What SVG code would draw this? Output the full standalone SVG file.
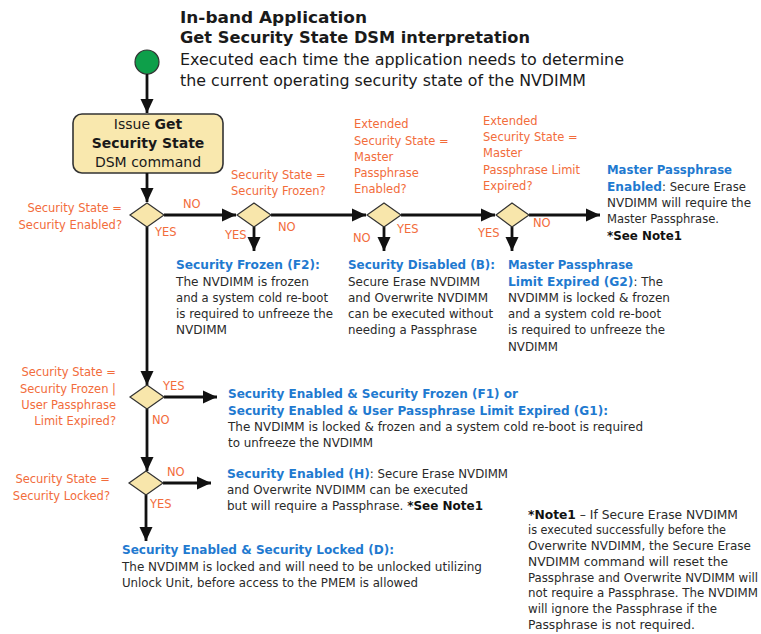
<svg xmlns="http://www.w3.org/2000/svg" width="761" height="634" viewBox="0 0 761 634">
<defs>
<marker id="ah" markerUnits="userSpaceOnUse" markerWidth="15" markerHeight="14" refX="14" refY="7" orient="auto">
<path d="M0,0.5 L14,7 L0,13.5 z" fill="#111"/>
</marker>
<style>
text { font-family: "DejaVu Sans", Verdana, sans-serif; }
.o { fill:#f26c3b; font-size:11.5px; }
.ol { fill:#f26c3b; font-size:11.5px; text-anchor:end; }
.h { fill:#1f7ad0; font-weight:bold; font-size:12px; }
.k { fill:#2a2a2a; font-size:11.5px; }
.kb { fill:#111; font-weight:bold; }
.hb { fill:#1f7ad0; font-weight:bold; font-size:12px; }
.dia { fill:#f8e6ab; stroke:#333; stroke-width:1.2; }
.c { stroke:#111; stroke-width:2.8; fill:none; marker-end:url(#ah); }
</style>
</defs>
<rect width="761" height="634" fill="#fff"/>

<g id="title">
<text x="180" y="23" font-size="15" font-weight="bold" fill="#1a1a1a" textLength="187" lengthAdjust="spacingAndGlyphs">In-band Application</text>
<text x="180" y="43" font-size="15" font-weight="bold" fill="#1a1a1a" textLength="350" lengthAdjust="spacingAndGlyphs">Get Security State DSM interpretation</text>
<text x="180" y="65" font-size="15" fill="#1a1a1a" textLength="444" lengthAdjust="spacingAndGlyphs">Executed each time the application needs to determine</text>
<text x="180" y="86" font-size="15" fill="#1a1a1a" textLength="406" lengthAdjust="spacingAndGlyphs">the current operating security state of the NVDIMM</text>
</g>

<g id="start"><circle cx="147" cy="62" r="12" fill="#0e9f4a" stroke="#333" stroke-width="1.2"/></g>

<g id="issue">
<rect x="73" y="114" width="150" height="59" rx="9" fill="#f9e8ae" stroke="#333" stroke-width="1.6"/>
<text x="148" y="129" font-size="14" fill="#1a1a1a" text-anchor="middle">Issue <tspan font-weight="bold">Get</tspan></text>
<text x="148" y="148" font-size="14" font-weight="bold" fill="#1a1a1a" text-anchor="middle">Security State</text>
<text x="148" y="167" font-size="14" fill="#1a1a1a" text-anchor="middle">DSM command</text>
</g>

<g id="connectors">
<line class="c" x1="147" y1="74" x2="147" y2="113"/>
<line class="c" x1="147" y1="173" x2="147" y2="202"/>
<line class="c" x1="164" y1="215" x2="236" y2="215"/>
<line class="c" x1="271" y1="215" x2="366" y2="215"/>
<line class="c" x1="401" y1="215" x2="495" y2="215"/>
<line class="c" x1="529" y1="215" x2="600" y2="215"/>
<line class="c" x1="254" y1="227" x2="254" y2="251"/>
<line class="c" x1="384" y1="227" x2="384" y2="251"/>
<line class="c" x1="512" y1="227" x2="512" y2="251"/>
<line class="c" x1="147" y1="227" x2="147" y2="385"/>
<line class="c" x1="164" y1="397" x2="217" y2="397"/>
<line class="c" x1="147" y1="409" x2="147" y2="471"/>
<line class="c" x1="163" y1="483" x2="211" y2="483"/>
<line class="c" x1="146" y1="495" x2="146" y2="541"/>
</g>

<g id="d1">
<polygon class="dia" points="130,215 147,203 164,215 147,227"/>
<text class="ol" x="122" y="212">Security State =</text>
<text class="ol" x="122" y="229">Security Enabled?</text>
<text class="o" x="183" y="208">NO</text>
<text class="o" x="155" y="236">YES</text>
</g>

<g id="d2">
<polygon class="dia" points="237,215 254,203 271,215 254,227"/>
<text class="o" x="231" y="179">Security State =</text>
<text class="o" x="231" y="195">Security Frozen?</text>
<text class="o" x="225" y="239">YES</text>
<text class="o" x="278" y="231">NO</text>
</g>

<g id="d3">
<polygon class="dia" points="367,215 384,203 401,215 384,227"/>
<text class="o" x="354" y="128">Extended</text>
<text class="o" x="354" y="145">Security State =</text>
<text class="o" x="354" y="161">Master</text>
<text class="o" x="354" y="177">Passphrase</text>
<text class="o" x="354" y="193">Enabled?</text>
<text class="o" x="353" y="242">NO</text>
<text class="o" x="397" y="233">YES</text>
</g>

<g id="d4">
<polygon class="dia" points="496,215 512,203 529,215 512,227"/>
<text class="o" x="483" y="125">Extended</text>
<text class="o" x="483" y="141">Security State =</text>
<text class="o" x="483" y="157">Master</text>
<text class="o" x="483" y="174">Passphrase Limit</text>
<text class="o" x="483" y="190">Expired?</text>
<text class="o" x="478" y="237">YES</text>
<text class="o" x="533" y="227">NO</text>
</g>

<g id="master-enabled">
<text class="h" x="607" y="174" textLength="125" lengthAdjust="spacingAndGlyphs">Master Passphrase</text>
<text class="k" x="607" y="191" textLength="139" lengthAdjust="spacingAndGlyphs"><tspan class="hb">Enabled</tspan>: Secure Erase</text>
<text class="k" x="607" y="207" textLength="144" lengthAdjust="spacingAndGlyphs">NVDIMM will require the</text>
<text class="k" x="607" y="223" textLength="112" lengthAdjust="spacingAndGlyphs">Master Passphrase.</text>
<text class="k" x="607" y="240" textLength="75" lengthAdjust="spacingAndGlyphs"><tspan class="kb">*See Note1</tspan></text>
</g>

<g id="frozen-f2">
<text class="h" x="176" y="269" textLength="144" lengthAdjust="spacingAndGlyphs">Security Frozen (F2):</text>
<text class="k" x="176" y="286" textLength="133" lengthAdjust="spacingAndGlyphs">The NVDIMM is frozen</text>
<text class="k" x="176" y="302" textLength="152" lengthAdjust="spacingAndGlyphs">and a system cold re-boot</text>
<text class="k" x="176" y="318" textLength="157" lengthAdjust="spacingAndGlyphs">is required to unfreeze the</text>
<text class="k" x="176" y="334" textLength="51" lengthAdjust="spacingAndGlyphs">NVDIMM</text>
</g>

<g id="disabled-b">
<text class="h" x="348" y="269" textLength="147" lengthAdjust="spacingAndGlyphs">Security Disabled (B):</text>
<text class="k" x="348" y="286" textLength="132" lengthAdjust="spacingAndGlyphs">Secure Erase NVDIMM</text>
<text class="k" x="348" y="302" textLength="140" lengthAdjust="spacingAndGlyphs">and Overwrite NVDIMM</text>
<text class="k" x="348" y="318" textLength="145" lengthAdjust="spacingAndGlyphs">can be executed without</text>
<text class="k" x="348" y="334" textLength="129" lengthAdjust="spacingAndGlyphs">needing a Passphrase</text>
</g>

<g id="limit-g2">
<text class="h" x="508" y="269" textLength="125" lengthAdjust="spacingAndGlyphs">Master Passphrase</text>
<text class="k" x="508" y="286" textLength="155" lengthAdjust="spacingAndGlyphs"><tspan class="hb">Limit Expired (G2)</tspan>: The</text>
<text class="k" x="508" y="302" textLength="162" lengthAdjust="spacingAndGlyphs">NVDIMM is locked &amp; frozen</text>
<text class="k" x="508" y="318" textLength="153" lengthAdjust="spacingAndGlyphs">and a system cold re-boot</text>
<text class="k" x="508" y="334" textLength="157" lengthAdjust="spacingAndGlyphs">is required to unfreeze the</text>
<text class="k" x="508" y="351" textLength="50" lengthAdjust="spacingAndGlyphs">NVDIMM</text>
</g>

<g id="d5">
<polygon class="dia" points="130,397 147,385 164,397 147,409"/>
<text class="ol" x="116" y="376">Security State =</text>
<text class="ol" x="116" y="393">Security Frozen |</text>
<text class="ol" x="116" y="409">User Passphrase</text>
<text class="ol" x="116" y="425">Limit Expired?</text>
<text class="o" x="163" y="390">YES</text>
<text class="o" x="152" y="424">NO</text>
</g>

<g id="f1-g1">
<text class="h" x="228" y="398" textLength="290" lengthAdjust="spacingAndGlyphs">Security Enabled &amp; Security Frozen (F1) or</text>
<text class="h" x="228" y="415" textLength="380" lengthAdjust="spacingAndGlyphs">Security Enabled &amp; User Passphrase Limit Expired (G1):</text>
<text class="k" x="228" y="431" textLength="415" lengthAdjust="spacingAndGlyphs">The NVDIMM is locked &amp; frozen and a system cold re-boot is required</text>
<text class="k" x="228" y="447" textLength="145" lengthAdjust="spacingAndGlyphs">to unfreeze the NVDIMM</text>
</g>

<g id="d6">
<polygon class="dia" points="129,483 146,471 163,483 146,495"/>
<text class="ol" x="110" y="483">Security State =</text>
<text class="ol" x="110" y="500">Security Locked?</text>
<text class="o" x="167" y="476">NO</text>
<text class="o" x="150" y="508">YES</text>
</g>

<g id="enabled-h">
<text class="k" x="227" y="478" textLength="281" lengthAdjust="spacingAndGlyphs"><tspan class="hb">Security Enabled (H)</tspan>: Secure Erase NVDIMM</text>
<text class="k" x="227" y="494" textLength="241" lengthAdjust="spacingAndGlyphs">and Overwrite NVDIMM can be executed</text>
<text class="k" x="227" y="510" textLength="256" lengthAdjust="spacingAndGlyphs">but will require a Passphrase. <tspan class="kb">*See Note1</tspan></text>
</g>

<g id="locked-d">
<text class="h" x="122" y="554" textLength="272" lengthAdjust="spacingAndGlyphs">Security Enabled &amp; Security Locked (D):</text>
<text class="k" x="122" y="571" textLength="360" lengthAdjust="spacingAndGlyphs">The NVDIMM is locked and will need to be unlocked utilizing</text>
<text class="k" x="122" y="587" textLength="296" lengthAdjust="spacingAndGlyphs">Unlock Unit, before access to the PMEM is allowed</text>
</g>

<g id="note1">
<text class="k" x="528" y="519" textLength="210" lengthAdjust="spacingAndGlyphs"><tspan class="kb">*Note1</tspan> – If Secure Erase NVDIMM</text>
<text class="k" x="528" y="534" textLength="198" lengthAdjust="spacingAndGlyphs">is executed successfully before the</text>
<text class="k" x="528" y="550" textLength="223" lengthAdjust="spacingAndGlyphs">Overwrite NVDIMM, the Secure Erase</text>
<text class="k" x="528" y="566" textLength="200" lengthAdjust="spacingAndGlyphs">NVDIMM command will reset the</text>
<text class="k" x="528" y="582" textLength="230" lengthAdjust="spacingAndGlyphs">Passphrase and Overwrite NVDIMM will</text>
<text class="k" x="528" y="597" textLength="230" lengthAdjust="spacingAndGlyphs">not require a Passphrase. The NVDIMM</text>
<text class="k" x="528" y="613" textLength="189" lengthAdjust="spacingAndGlyphs">will ignore the Passphrase if the</text>
<text class="k" x="528" y="629" textLength="167" lengthAdjust="spacingAndGlyphs">Passphrase is not required.</text>
</g>
</svg>
